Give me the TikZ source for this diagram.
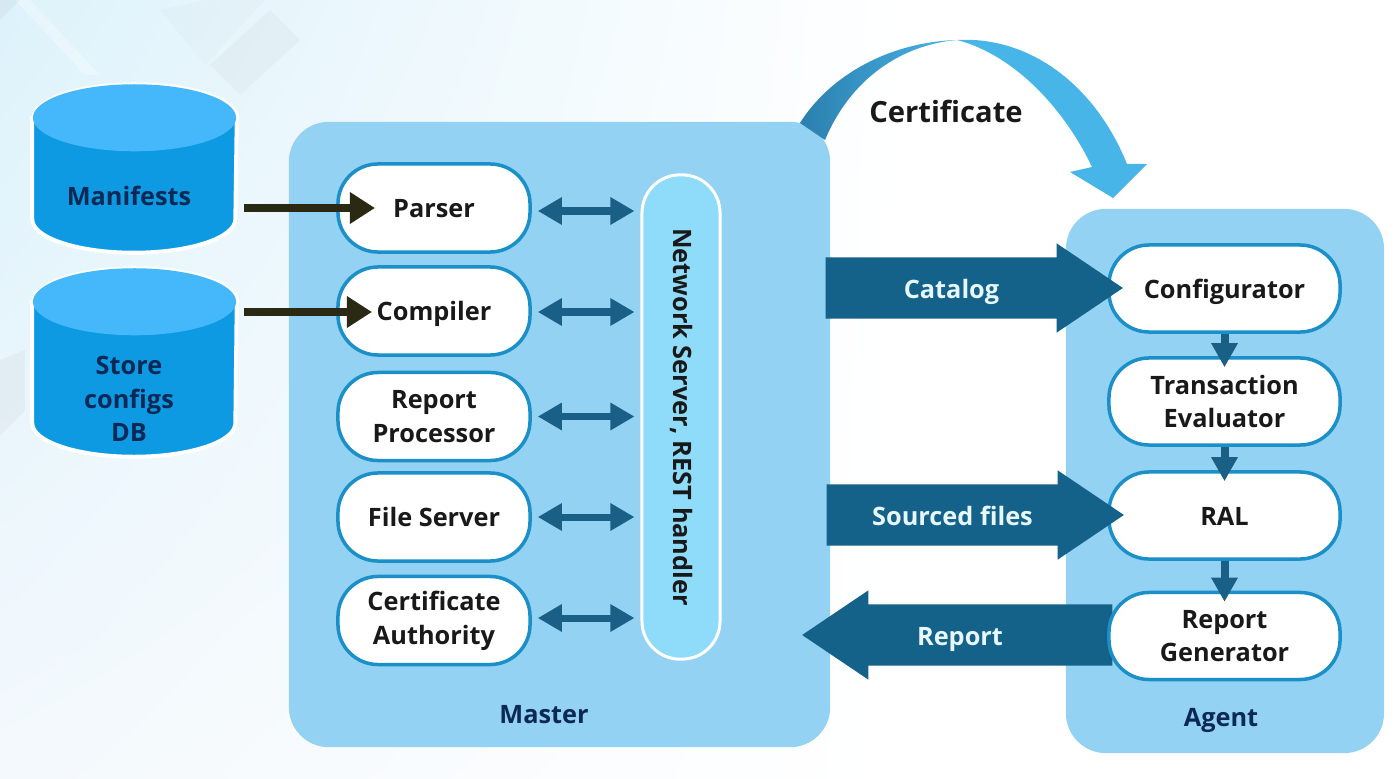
\documentclass[tikz,border=0pt]{standalone}
\usepackage{fontspec}
\setmainfont{Open Sans}
\usetikzlibrary{arrows.meta}
\usetikzlibrary{shapes.arrows, shadings}

\definecolor{panelblue}{HTML}{94D2F3}
\definecolor{pillline}{HTML}{1A8FC8}
\definecolor{railblue}{HTML}{8FDCFA}
\definecolor{arrowblue}{HTML}{14618A}
\definecolor{smallblue}{HTML}{1A5F85}
\definecolor{arrowdark}{HTML}{2A2A14}
\definecolor{certlight}{HTML}{48B5E8}
\definecolor{certdark}{HTML}{2B7FAE}
\definecolor{dbtop}{HTML}{45B8FC}
\definecolor{dbbody}{HTML}{0D9AE3}
\definecolor{navytext}{HTML}{0A2A55}
\definecolor{bgblue}{HTML}{DDF2FB}
\definecolor{bglow}{HTML}{F4F9FD}

\tikzset{
  label text/.style={font=\fontsize{7.2pt}{9.6pt}\selectfont\bfseries, align=center, text=black!90},
  one line/.style={text height=0.19cm, text depth=0pt},
  panel/.style={fill=panelblue, rounded corners=0.4cm, inner sep=0pt},
  pill/.style={label text, draw=pillline, line width=0.035cm, fill=white, rounded corners=0.4cm, inner sep=0pt},
  master pill/.style={pill, minimum width=1.92cm, minimum height=0.88cm},
  agent pill/.style={pill, minimum width=2.31cm, minimum height=0.87cm},
  db/.style={minimum width=2.03cm, inner sep=0pt},
  db text/.style={label text, text=navytext},
  big arrow/.style={single arrow, fill=arrowblue, single arrow head extend=0.14cm,
    single arrow tip angle=68, minimum width=0.88cm, inner xsep=0pt, inner ysep=0.2cm,
    font=\fontsize{7.2pt}{9.6pt}\selectfont\bfseries, text=white!90!cyan, text height=0.2cm, text depth=0pt},
  feed/.style={-{Triangle[length=0.25cm,width=0.3cm]}, line width=0.08cm, arrowdark},
  link/.style={{Triangle[length=0.24cm,width=0.26cm]}-{Triangle[length=0.24cm,width=0.26cm]}, line width=0.07cm, smallblue},
  step link/.style={-{Triangle[length=0.24cm,width=0.25cm]}, line width=0.08cm, smallblue, shorten >=-0.11cm}
}

% cylinder round a named box
\newcommand{\dbshape}[1]{
  \path[fill=dbbody, draw=white, line width=0.04cm] ([yshift=-0.335cm]#1.north west)
    -- ([yshift=0.335cm]#1.south west) arc[start angle=180, end angle=360, x radius=1.015cm, y radius=0.335cm]
    -- ([yshift=-0.335cm]#1.north east) arc[start angle=0, end angle=180, x radius=1.015cm, y radius=0.335cm] -- cycle;
  \fill[dbtop] ([yshift=-0.335cm]#1.north) ellipse[x radius=1.015cm, y radius=0.335cm];
}

\begin{document}
\begin{tikzpicture}[x=0.01cm,y=-0.01cm]
\useasboundingbox (0,0) rectangle (1400,779);

% background
\shade[upper left=bgblue, lower left=bglow, upper right=white, lower right=white] (0,0) rectangle (900,779);
\fill[black!30, opacity=0.10] (270,10) -- (300,40) -- (240,95) -- (210,65) -- cycle;
\fill[black!30, opacity=0.05] (160,10) -- (205,0) -- (265,0) -- (205,65) -- cycle;
\fill[black!30, opacity=0.14] (0,0) -- (20,0) -- (0,20) -- cycle;
\fill[black!30, opacity=0.12] (0,360) -- (25,350) -- (25,410) -- (0,435) -- cycle;
\fill[white, opacity=0.3] (15,0) -- (30,0) -- (100,75) -- (85,75) -- cycle;

% panels
\node[panel, minimum width=5.41cm, minimum height=6.25cm] (master) at (559.5,434.5) {};
\node[panel, minimum width=3.18cm, minimum height=5.44cm] (agent) at (1225,481) {};

% certificate arrow
\shade[left color=certdark, right color=certlight] (800,123) .. controls (830,75) and (890,42) .. (957,40)
  .. controls (900,45) and (850,80) .. (825,140) -- cycle;
\fill[certlight] (957,40) .. controls (1030,36) and (1095,85) .. (1127,164) -- (1147,164) -- (1113,198)
  -- (1070,172) -- (1092,167) .. controls (1065,110) and (1015,55) .. (957,40) -- cycle;
\node[font=\fontsize{8.3pt}{10pt}\selectfont\bfseries, text=black!90] (certificate) at (946,111) {Certificate};

% databases
\node[db, minimum height=1.67cm] (manifests) at (134.5,168.5) {};
\node[db, minimum height=1.87cm] (store) at (134.5,362.5) {};
\dbshape{manifests}
\dbshape{store}
\node[db text] (manifeststext) at (129,196) {Manifests};
\node[db text] (storetext) at (129,399) {Store\\configs\\DB};

% master
\node[master pill, one line] (parser) at (434,208) {Parser};
\node[master pill, one line] (compiler) at (434,311) {Compiler};
\node[master pill] (report) at (434,416.5) {Report\\Processor};
\node[master pill, one line] (file) at (434,517) {File Server};
\node[master pill] (authority) at (434,620.5) {Certificate\\Authority};
\node[label text, draw=white, line width=0.03cm, fill=railblue, rounded corners=0.38cm, inner sep=0pt,
  minimum width=4.84cm, minimum height=0.78cm, rotate=-90] (network) at (681,417) {Network Server, REST handler};
\node[db text] (masterlabel) at (544,715) {Master};

% agent
\node[big arrow, minimum height=3.1cm, shape border rotate=180] (reportarrow) at (980,635) {Report\kern0.4cm};
\node[agent pill, one line] (configurator) at (1224.5,288.5) {Configurator};
\node[agent pill] (evaluator) at (1224.5,401.5) {Transaction\\Evaluator};
\node[agent pill, one line] (ral) at (1224.5,515.5) {RAL};
\node[agent pill] (generator) at (1224.5,636) {Report\\Generator};
\node[db text] (agentlabel) at (1221,720) {Agent};

% big arrows
\node[big arrow, minimum height=2.97cm] (catalog) at (951.5,288) {Catalog};
\node[big arrow, minimum height=2.97cm] (sourced) at (952.5,515) {Sourced files};

% connectors
\coordinate (parserin) at (375,208);
\coordinate (compilerin) at (372,312);
\draw[feed] (manifests.east |- parserin) ++(7,0) -- (parserin);
\draw[feed] (store.east |- compilerin) ++(7,0) -- (compilerin);

\draw[link] ([yshift=-0.03cm,xshift=0.06cm]parser.east) -- ([yshift=-0.03cm,xshift=-0.06cm]parser.east -| network.south);
\draw[link] ([yshift=-0.01cm,xshift=0.06cm]compiler.east) -- ([yshift=-0.01cm,xshift=-0.06cm]compiler.east -| network.south);
\draw[link] ([xshift=0.06cm]report.east) -- ([xshift=-0.06cm]report.east -| network.south);
\draw[link] ([xshift=0.06cm]file.east) -- ([xshift=-0.06cm]file.east -| network.south);
\draw[link] ([yshift=0.025cm,xshift=0.06cm]authority.east) -- ([yshift=0.025cm,xshift=-0.06cm]authority.east -| network.south);

\draw[step link] (configurator) -- (evaluator);
\draw[step link] (evaluator) -- (ral);
\draw[step link] (ral) -- (generator);
\end{tikzpicture}
\end{document}
